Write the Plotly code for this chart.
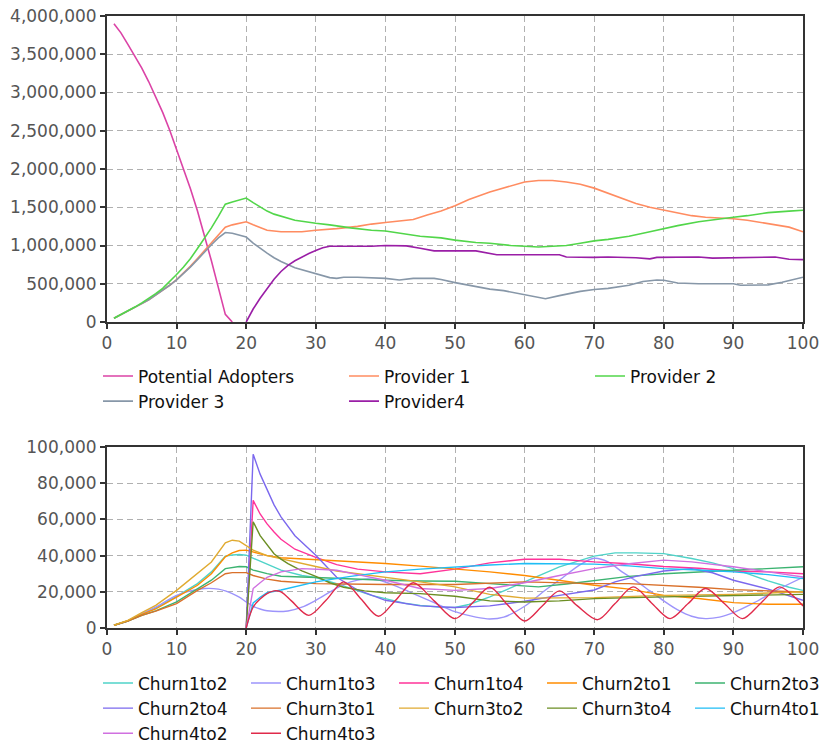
import plotly.graph_objects as go

# ---------------- top chart data ----------------
PA_T = list(range(1, 19))
PA_V = [3900000, 3780000, 3630000, 3480000, 3320000, 3140000, 2950000, 2740000, 2510000,
        2250000, 2000000, 1740000, 1450000, 1140000, 800000, 450000, 100000, 0]

P1_T = [1, 2, 3, 4, 5, 6, 7, 8, 9, 10, 11, 12, 13, 14, 15, 16, 17, 18, 19, 20, 21, 22, 23,
        25, 28, 30, 33, 36, 38, 40, 42, 44, 46, 48, 50, 52, 55, 58, 60, 62, 64, 66, 68, 70,
        72, 74, 76, 78, 80, 82, 84, 86, 88, 90, 92, 94, 96, 98, 100]
P1_V = [50000, 95000, 140000, 190000, 240000, 290000, 350000, 410000, 480000, 555000, 640000,
        730000, 830000, 935000, 1040000, 1140000, 1240000, 1270000, 1290000, 1310000, 1270000,
        1230000, 1200000,
        1180000, 1180000, 1200000, 1220000, 1250000, 1280000, 1300000, 1320000, 1340000, 1400000,
        1450000, 1520000, 1600000, 1700000, 1780000, 1830000, 1850000, 1850000, 1830000, 1800000,
        1750000, 1680000, 1610000, 1550000, 1500000, 1460000, 1420000, 1390000, 1370000, 1360000,
        1350000, 1330000, 1300000, 1270000, 1240000, 1180000]

P2_T = [1, 2, 3, 4, 5, 6, 7, 8, 9, 10, 11, 12, 13, 14, 15, 16, 17, 18, 19, 20,
        21, 22, 23, 24, 25, 27, 30, 32, 35, 38, 40, 43, 45, 48, 50, 53, 55, 58, 60, 62, 64, 66,
        68, 70, 72, 75, 78, 80, 82, 85, 88, 90, 92, 95, 98, 100]
P2_V = [50000, 95000, 145000, 195000, 250000, 305000, 370000, 440000, 525000, 620000, 720000,
        830000, 960000, 1090000, 1230000, 1380000, 1540000, 1570000, 1600000, 1620000,
        1560000, 1500000, 1450000, 1410000, 1380000, 1330000, 1290000, 1270000, 1230000, 1200000,
        1190000, 1150000, 1120000, 1100000, 1070000, 1040000, 1030000, 1000000, 990000, 980000,
        990000, 1000000, 1030000, 1060000, 1080000, 1120000, 1180000, 1220000, 1260000, 1310000,
        1350000, 1370000, 1390000, 1430000, 1450000, 1460000]

P3_T = [1, 2, 3, 4, 5, 6, 7, 8, 9, 10, 11, 12, 13, 14, 15, 16, 17, 18, 19, 20,
        21, 22, 23, 24, 25, 27, 30, 32, 33, 34, 36, 38, 40, 42, 44, 47, 48, 50, 53, 55, 57, 60,
        62, 63, 65, 68, 70, 72, 75, 77, 79, 80, 82, 85, 90, 91, 95, 97, 100]
P3_V = [50000, 95000, 140000, 190000, 240000, 290000, 350000, 410000, 480000, 550000, 630000,
        720000, 815000, 915000, 1010000, 1100000, 1170000, 1160000, 1140000, 1110000,
        1030000, 960000, 900000, 840000, 790000, 710000, 630000, 580000, 570000, 585000, 585000,
        575000, 570000, 550000, 570000, 570000, 555000, 515000, 470000, 430000, 410000, 355000,
        315000, 305000, 345000, 400000, 425000, 440000, 480000, 530000, 550000, 545000, 510000,
        500000, 500000, 480000, 485000, 520000, 585000]

P4_T = [20, 21, 22, 23, 24, 25, 26, 27, 28, 29, 30, 31, 32, 38, 40, 43, 45, 46, 47, 53, 55, 56,
        65, 66, 70, 72, 76, 78, 79, 85, 87, 91, 93, 96, 98, 100]
P4_V = [0, 170000, 310000, 440000, 560000, 660000, 740000, 800000, 850000, 895000, 935000,
        970000, 990000, 990000, 1000000, 995000, 965000, 950000, 930000, 930000, 900000, 880000,
        880000, 850000, 845000, 850000, 840000, 825000, 845000, 850000, 835000, 840000, 850000,
        850000, 820000, 815000]

# ---------------- bottom chart data ----------------
C12_T = [1, 3, 5, 7, 10, 13, 15, 17, 18, 19, 20, 21, 23, 25, 28, 30, 33, 36, 38, 40, 43, 45, 48,
         50, 52, 55, 60, 65, 70, 73, 76, 80, 84, 87, 90, 93, 95, 98, 100]
C12_V = [1500, 4000, 7800, 11000, 17500, 24500, 31000, 39700, 40300, 40600, 40200, 38500, 35000,
         32000, 29000, 27900, 24500, 20500, 18000, 16200, 13500, 12500, 11500, 11300, 13000, 17200,
         25500, 33800, 39700, 41500, 41500, 41100, 38400, 36000, 32800, 28500, 26000, 22500, 20800]

C13_T = [1, 3, 5, 7, 10, 12, 14, 16, 17, 18, 19, 20, 21, 22, 23, 26, 28, 30, 33, 35, 37, 39, 41,
         44, 47, 50, 53, 55, 57, 60, 63, 65, 68, 70, 72, 74, 76, 78, 80, 82, 84, 86, 88, 90, 93,
         96, 100]
C13_V = [1500, 4000, 7800, 11500, 18000, 20500, 21800, 21500, 20500, 19000, 17000, 14400, 12000,
         10500, 9500, 9400, 11500, 15300, 22000, 25500, 27000, 26500, 24000, 19000, 14000, 9000,
         6000, 5000, 6000, 12000, 21000, 26500, 35000, 38500, 36500, 31000, 26000, 20500, 15000,
         10000, 6500, 5200, 6000, 8500, 14000, 20500, 28000]

C14_T = [20, 21, 22, 23, 24, 25, 27, 30, 33, 36, 40, 45, 50, 55, 60, 65, 70, 75, 80, 85, 90, 95, 100]
C14_V = [0, 70500, 63000, 57500, 53000, 49000, 43500, 39000, 35000, 32500, 31000, 30000, 32500,
         36000, 38000, 38000, 36500, 35500, 34000, 33000, 31500, 31000, 30000]

C21_T = [1, 3, 5, 7, 10, 13, 15, 17, 18, 19, 20, 21, 23, 25, 30, 35, 40, 45, 50, 55, 60, 65, 70,
         75, 80, 85, 90, 95, 100]
C21_V = [1500, 4000, 7500, 10500, 17000, 23600, 30000, 39300, 41500, 42800, 43000, 42000, 40000,
         38800, 37800, 36700, 35600, 34200, 32800, 31000, 29000, 26400, 23600, 21500, 18000, 16300,
         14000, 13100, 13100]

C23_T = [1, 3, 5, 7, 10, 13, 15, 17, 18, 19, 20, 21, 23, 25, 30, 35, 40, 45, 50, 55, 60, 62, 66,
         70, 75, 80, 85, 90, 95, 100]
C23_V = [1500, 3800, 7000, 9500, 14400, 21800, 26400, 32800, 33600, 34000, 33800, 32000, 30000,
         28600, 27900, 27000, 26400, 26000, 25800, 24500, 23200, 22700, 24300, 26000, 28500, 30000,
         31000, 32000, 32800, 33800]

C24_T = [20, 21, 22, 23, 24, 25, 27, 30, 33, 36, 40, 45, 50, 55, 60, 65, 70, 73, 76, 80, 84, 87,
         90, 95, 100]
C24_V = [0, 96000, 85000, 76000, 68000, 61400, 51000, 40200, 28000, 21000, 15300, 12200, 11300,
         12200, 14800, 18000, 21000, 25500, 28500, 31500, 32800, 30500, 26400, 21500, 15300]

C31_T = [1, 3, 5, 7, 10, 13, 15, 17, 18, 19, 20, 21, 23, 25, 30, 40, 50, 60, 70, 75, 80, 85, 90,
         95, 100]
C31_V = [1500, 3800, 7000, 9300, 13500, 20800, 25000, 30000, 30600, 30800, 30600, 29000, 27000,
         25800, 24500, 24000, 24000, 25500, 24500, 24500, 23600, 22500, 21200, 20500, 19900]

C32_T = [1, 3, 5, 7, 10, 13, 15, 17, 18, 19, 20, 21, 23, 25, 30, 33, 40, 45, 50, 55, 60, 65, 70,
         80, 90, 100]
C32_V = [1500, 4200, 8500, 12500, 20800, 30000, 36500, 47000, 48500, 48000, 45700, 43000, 40000,
         38400, 34000, 31500, 28200, 25500, 22700, 18600, 16500, 16500, 16800, 18000, 18600, 20000]

C34_T = [20, 21, 22, 23, 24, 25, 26, 28, 30, 32, 34, 37, 40, 45, 50, 55, 60, 65, 70, 80, 90, 100]
C34_V = [0, 58700, 51000, 46000, 41000, 38000, 35600, 31500, 28500, 25000, 22500, 20500, 19500,
         19000, 17500, 15000, 14400, 15000, 16200, 17200, 18000, 18600]

C41_T = [20, 21, 22, 23, 25, 30, 35, 40, 45, 50, 55, 60, 65, 70, 75, 80, 85, 90, 95, 100]
C41_V = [0, 13800, 17000, 19500, 21000, 25500, 28500, 31000, 32500, 33800, 34800, 35600, 35600,
         35300, 34300, 32800, 32000, 31000, 29500, 27300]

C42_T = [20, 21, 22, 23, 25, 28, 31, 33, 36, 40, 45, 50, 55, 60, 65, 70, 75, 80, 84, 90, 95, 100]
C42_V = [0, 21800, 25000, 28000, 31000, 32800, 32300, 31900, 29500, 26400, 21800, 20800, 21800,
         25000, 29000, 32800, 35500, 37500, 36500, 33800, 31000, 28200]

C43_T = [20, 21, 22, 23, 24, 25, 26.5, 29, 31.5, 34, 36.5, 39, 41.5, 44, 47, 50, 52.5, 55, 57.5,
         60, 62.5, 65, 67.5, 70.5, 73, 75.6, 78.2, 80.9, 83.5, 86, 88.7, 91.3, 94, 96.6, 98.5, 100]
C43_V = [0, 11600, 16000, 19000, 20500, 20000, 15000, 7000, 15500, 25500, 16000, 6500, 15500,
         25000, 15000, 5200, 13800, 22500, 13000, 3900, 12000, 20500, 12500, 4600, 13500, 22700,
         14000, 5200, 13500, 21800, 13500, 5200, 14000, 22700, 18000, 12200]

TOP = [
    ("Potential Adopters", PA_T, PA_V, "#db43a6", "legend"),
    ("Provider 1", P1_T, P1_V, "#ff8c61", "legend"),
    ("Provider 3", P3_T, P3_V, "#8797a8", "legend"),
    ("Provider4", P4_T, P4_V, "#9a1ea6", "legend"),
    ("Provider 2", P2_T, P2_V, "#52d64a", "legend3"),
]
BOTTOM = [
    ("Churn1to2", C12_T, C12_V, "#4fd3c8", "linear"),
    ("Churn1to3", C13_T, C13_V, "#9d94fb", "spline"),
    ("Churn1to4", C14_T, C14_V, "#ff3399", "linear"),
    ("Churn2to1", C21_T, C21_V, "#ff8c00", "linear"),
    ("Churn2to3", C23_T, C23_V, "#3cb371", "linear"),
    ("Churn2to4", C24_T, C24_V, "#7b68ee", "linear"),
    ("Churn3to1", C31_T, C31_V, "#d9702a", "linear"),
    ("Churn3to2", C32_T, C32_V, "#e0aa30", "linear"),
    ("Churn3to4", C34_T, C34_V, "#6b8e23", "linear"),
    ("Churn4to1", C41_T, C41_V, "#1ebdf5", "linear"),
    ("Churn4to2", C42_T, C42_V, "#d070e0", "linear"),
    ("Churn4to3", C43_T, C43_V, "#e02a4a", "spline"),
]

FONT = "DejaVu Sans"
fig = go.Figure()

for name, t, v, col, lg in TOP:
    assert len(t) == len(v), name
    fig.add_trace(go.Scatter(x=t, y=v, name=name, mode="lines", xaxis="x", yaxis="y",
                             line=dict(color=col, width=1.6), legend=lg))

for name, t, v, col, shape in BOTTOM:
    assert len(t) == len(v), name
    fig.add_trace(go.Scatter(x=t, y=v, name=name, mode="lines", xaxis="x2", yaxis="y2",
                             line=dict(color=col, width=1.4, shape=shape, smoothing=0.9),
                             legend="legend2"))

axis_style = dict(showline=True, linecolor="#333333", linewidth=2, mirror=True,
                  ticks="outside", ticklen=5, tickwidth=1.5, tickcolor="#333333",
                  showgrid=True, gridcolor="#b0b0b0", gridwidth=1, griddash="6px,4px",
                  zeroline=False, ticklabeloverflow="allow",
                  tickfont=dict(family=FONT, size=17, color="#555555"))

legend_style = dict(orientation="h", xanchor="left", yanchor="top",
                    entrywidthmode="pixels", bgcolor="rgba(0,0,0,0)",
                    font=dict(family=FONT, size=17, color="#111111"),
                    traceorder="normal")

FIG_W, FIG_H = 822, 748
fig.update_layout(
    width=FIG_W, height=FIG_H,
    margin=dict(l=107, r=19, t=16, b=120, autoexpand=False),
    paper_bgcolor="white", plot_bgcolor="white",
    showlegend=True,
    xaxis=dict(domain=[0, 1], anchor="y", range=[0, 100], dtick=10, **axis_style),
    yaxis=dict(domain=[0.5, 1], anchor="x", range=[0, 4000000], dtick=500000,
               tickformat=",d", **axis_style),
    xaxis2=dict(domain=[0, 1], anchor="y2", range=[0, 100], dtick=10, **axis_style),
    yaxis2=dict(domain=[0, 0.2958], anchor="x2", range=[0, 100000], dtick=20000,
                tickformat=",d", **axis_style),
    legend=dict(xref="container", x=98 / FIG_W, y=0.4404, entrywidth=201, **legend_style),
    legend3=dict(xref="container", x=590 / FIG_W, y=0.4404, entrywidth=201, **legend_style),
    legend2=dict(x=-0.01293, y=-0.0613, entrywidth=103, **legend_style),
)

# remove the page's default body margin so the figure fills the window exactly
fig.write_html("out.html",
               config={"displayModeBar": False},
               post_script="document.body.style.margin='0';"
                           "document.body.style.overflow='hidden';")
